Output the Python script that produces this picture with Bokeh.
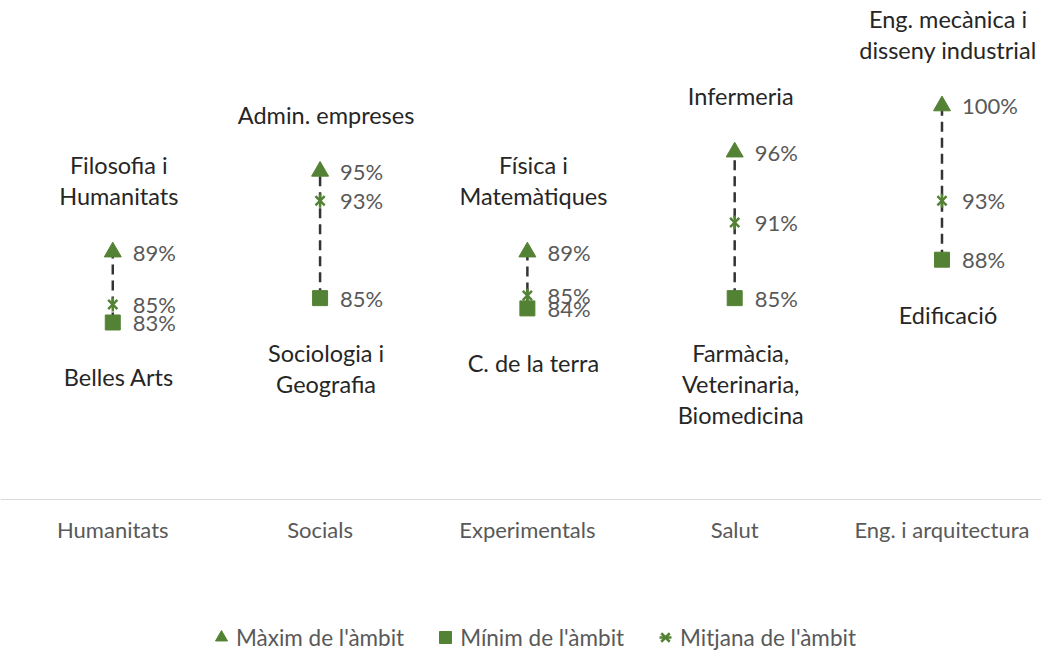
import math
from bokeh.plotting import figure
from bokeh.models import Range1d, FixedTicker, ColumnDataSource, Legend, LegendItem
from bokeh.core.properties import value
from bokeh.embed import file_html
from bokeh.resources import INLINE

categories = ["Humanitats", "Socials", "Experimentals", "Salut", "Eng. i arquitectura"]
max_vals = [88.6, 94.9, 88.6, 96.4, 100.0]
min_vals = [83.1, 85.0, 84.2, 85.0, 88.0]
mean_vals = [84.5, 92.6, 85.2, 90.9, 92.6]
max_names = ["Filosofia i\nHumanitats", "Admin. empreses", "Física i\nMatemàtiques",
             "Infermeria", "Eng. mecànica i\ndisseny industrial"]
min_names = ["Belles Arts", "Sociologia i\nGeografia", "C. de la terra",
             "Farmàcia,\nVeterinaria,\nBiomedicina", "Edificació"]
legend_labels = ["Màxim de l'àmbit", "Mínim de l'àmbit", "Mitjana de l'àmbit"]


def pct(v):
    return f"{int(v + 0.5)}%"


GREEN = "#548235"
FONT = value("Lato")

xs = list(range(len(categories)))
src = ColumnDataSource(dict(
    x=xs, mx=max_vals, mn=min_vals, me=mean_vals,
    mx_lbl=[pct(v) for v in max_vals],
    mn_lbl=[pct(v) for v in min_vals],
    me_lbl=[pct(v) for v in mean_vals],
    mx_name=max_names, mn_name=min_names,
))

p = figure(width=1041, height=652, x_range=Range1d(-0.5416, 4.480),
           y_range=Range1d(57.35, 108.224), output_backend="svg",
           toolbar_location=None, y_axis_location=None, min_border=0)
p.outline_line_color = None
p.grid.visible = False
p.background_fill_color = "white"
p.border_fill_color = "white"

p.segment(x0="x", y0="mn", x1="x", y1="mx", source=src, line_color="#333333",
          line_width=2.5, line_dash="10 6")
r_max = p.scatter("x", "mx", source=src, marker="triangle", size=17,
                  fill_color=GREEN, line_color=GREEN)
r_me_x = p.scatter("x", "me", source=src, marker="x", size=13,
                   line_color=GREEN, line_width=2.5)
r_me_v = p.scatter("x", "me", source=src, marker="dash", size=14, angle=math.pi / 2,
                   line_color=GREEN, line_width=2.5)
r_min = p.scatter("x", "mn", source=src, marker="square", size=15,
                  fill_color=GREEN, line_color=GREEN)

for col, lbl in (("mx", "mx_lbl"), ("mn", "mn_lbl"), ("me", "me_lbl")):
    p.text(x="x", y=col, text=lbl, source=src, x_offset=20, text_align="left",
           text_baseline="middle", text_font=FONT, text_font_size="22px",
           text_color="#595959")

p.text(x="x", y="mx", text="mx_name", source=src, x_offset=6, y_offset=-42,
       text_align="center", text_baseline="bottom", text_font=FONT,
       text_font_size="23.5px", text_color="#262626", text_line_height=1.1)
p.text(x="x", y="mn", text="mn_name", source=src, x_offset=6, y_offset=41,
       text_align="center", text_baseline="top", text_font=FONT,
       text_font_size="23.5px", text_color="#262626", text_line_height=1.1)

ax = p.xaxis[0]
ax.ticker = FixedTicker(ticks=xs)
ax.major_label_overrides = {i: c for i, c in enumerate(categories)}
ax.fixed_location = 69.31
ax.axis_line_color = "#d9d9d9"
ax.axis_line_width = 1
ax.major_tick_line_color = None
ax.minor_tick_line_color = None
ax.major_tick_out = 0
ax.major_tick_in = 0
ax.major_label_standoff = 17
ax.major_label_text_font = "Lato"
ax.major_label_text_font_size = "22px"
ax.major_label_text_color = "#595959"

legend = Legend(items=[LegendItem(label=legend_labels[0], renderers=[r_max]),
                       LegendItem(label=legend_labels[1], renderers=[r_min]),
                       LegendItem(label=legend_labels[2], renderers=[r_me_x, r_me_v])],
                orientation="horizontal", location=(206, 0), glyph_width=30,
                glyph_height=30, label_standoff=-1, spacing=26, padding=0,
                margin=0, border_line_color=None, background_fill_alpha=0,
                label_text_font="Lato", label_text_font_size="22.5px",
                label_text_color="#595959")
p.add_layout(legend)

open("out.html", "w").write(file_html(p, INLINE))
